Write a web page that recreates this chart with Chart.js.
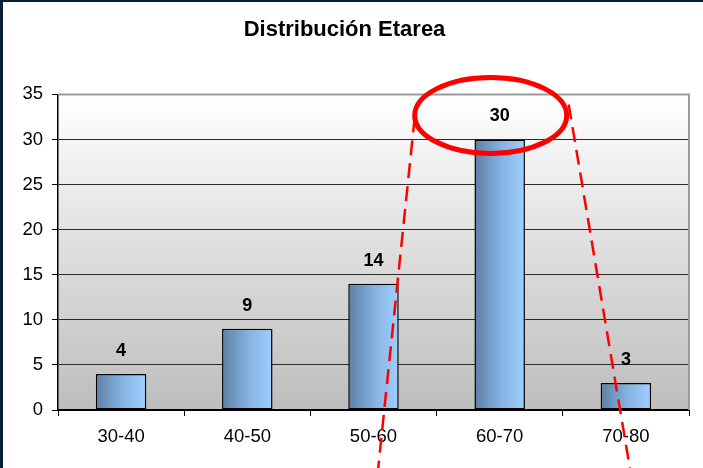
<!DOCTYPE html>
<html>
<head>
<meta charset="utf-8">
<script src="https://cdn.jsdelivr.net/npm/chart.js@4"></script>
<style>
  html, body { margin: 0; padding: 0; background: #fff; }
  #wrap { width: 703px; height: 468px; position: relative; }
</style>
</head>
<body>
<div id="wrap"><canvas id="c" width="703" height="468"></canvas></div>
<script>
// Age distribution of patients (grupos etarios)
const ageGroups = ['30-40', '40-50', '50-60', '60-70', '70-80'];
const patientCounts = [4, 9, 14, 30, 3];
const yTicks = [0, 5, 10, 15, 20, 25, 30, 35];
const chartTitle = 'Distribución Etarea';
const highlightIndex = 3; // group singled out with the red callout

const FONT = '"Liberation Sans", Arial, sans-serif';

// Grey-to-white backdrop of the plot area plus the dark frame edges
const backdrop = {
  id: 'backdrop',
  beforeDraw(chart) {
    const { ctx, chartArea: a } = chart;
    ctx.save();
    ctx.fillStyle = '#fff';
    ctx.fillRect(0, 0, chart.width, chart.height);
    const g = ctx.createLinearGradient(0, a.top, 0, a.bottom);
    g.addColorStop(0, '#ffffff');
    g.addColorStop(1, '#bdbdbd');
    ctx.fillStyle = g;
    ctx.fillRect(a.left, a.top, a.right - a.left, a.bottom - a.top);
    // frame edges
    ctx.fillStyle = '#0c1c3c';
    ctx.fillRect(0, 0, 3, chart.height);
    ctx.fillRect(0, 0, chart.width, 2);
    ctx.restore();
  },
  afterDraw(chart) {
    const { ctx, chartArea: a } = chart;
    ctx.save();
    ctx.strokeStyle = '#9a9a9a';
    ctx.lineWidth = 2;
    ctx.beginPath();
    ctx.moveTo(a.left, a.top);
    ctx.lineTo(a.right, a.top);
    ctx.lineTo(a.right, a.bottom);
    ctx.stroke();
    ctx.restore();
  }
};

// Horizontal steel-blue shading of each bar
const barShade = {
  id: 'barShade',
  beforeDatasetsDraw(chart) {
    const { ctx } = chart;
    chart.getDatasetMeta(0).data.forEach(bar => {
      const half = bar.width / 2;
      const g = ctx.createLinearGradient(bar.x - half, 0, bar.x + half, 0);
      g.addColorStop(0, '#5e7fa5');
      g.addColorStop(0.55, '#86b4e4');
      g.addColorStop(1, '#a0d0ff');
      bar.options.backgroundColor = g;
    });
  }
};

// Bold value above every bar
const valueLabels = {
  id: 'valueLabels',
  afterDatasetsDraw(chart) {
    const { ctx } = chart;
    const values = chart.data.datasets[0].data;
    ctx.save();
    ctx.font = 'bold 18px ' + FONT;
    ctx.fillStyle = '#000';
    ctx.textAlign = 'center';
    ctx.textBaseline = 'middle';
    chart.getDatasetMeta(0).data.forEach((bar, i) => {
      ctx.fillText(String(values[i]), bar.x, bar.y - 23);
    });
    ctx.restore();
  }
};

// Red callout: ellipse around the highlighted value and dashed guide lines
const callout = {
  id: 'callout',
  afterDraw(chart) {
    const { ctx } = chart;
    const bar = chart.getDatasetMeta(0).data[highlightIndex];
    const cx = bar.x - 9;
    const cy = bar.y - 24;
    const rx = 76, ry = 38;
    ctx.save();
    ctx.strokeStyle = '#ff0000';
    ctx.lineWidth = 2.5;
    ctx.setLineDash([15, 8]);
    ctx.beginPath();
    ctx.moveTo(cx - rx, cy + 2);
    ctx.lineTo(cx - rx - 37, chart.height + 5);
    ctx.moveTo(cx + rx + 2, cy - 11);
    ctx.lineTo(cx + rx + 64, chart.height + 5);
    ctx.stroke();
    ctx.setLineDash([]);
    ctx.lineWidth = 5;
    ctx.beginPath();
    ctx.ellipse(cx, cy, rx, ry, 0, 0, Math.PI * 2);
    ctx.stroke();
    ctx.restore();
  }
};

new Chart(document.getElementById('c'), {
  type: 'bar',
  data: {
    labels: ageGroups,
    datasets: [{
      data: patientCounts,
      // scriptable so every bar keeps its own options object
      backgroundColor: () => '#86b4e4',
      borderColor: '#000',
      borderWidth: 1.5,
      borderSkipped: false,
      barPercentage: 0.4,
      categoryPercentage: 1.0
    }]
  },
  options: {
    responsive: false,
    animation: false,
    devicePixelRatio: 1,
    layout: { padding: { left: 0, right: 14, top: 0, bottom: 0 } },
    plugins: {
      legend: { display: false },
      tooltip: { enabled: false },
      title: {
        display: true,
        text: chartTitle,
        color: '#000',
        font: { family: FONT, size: 22, weight: 'bold' },
        padding: { top: 17, bottom: 51 }
      }
    },
    scales: {
      x: {
        offset: true,
        border: { display: true, color: '#000', width: 2 },
        grid: {
          offset: true,
          drawOnChartArea: false,
          drawTicks: true,
          tickLength: 6,
          color: '#000'
        },
        ticks: {
          color: '#000',
          font: { family: FONT, size: 18.5 },
          padding: 10
        },
        afterFit(s) { s.height = 58; }
      },
      y: {
        min: 0,
        max: 35,
        afterBuildTicks(s) { s.ticks = yTicks.map(v => ({ value: v })); },
        border: { display: true, color: '#000', width: 1.5 },
        grid: {
          color: ctx => (ctx.tick && ctx.tick.value === 35) ? 'rgba(0,0,0,0)' : '#2a2a2a',
          lineWidth: 1,
          drawTicks: true,
          tickLength: 6,
          tickColor: '#000'
        },
        ticks: {
          color: '#000',
          font: { family: FONT, size: 18.5 },
          padding: 9
        },
        afterFit(s) { s.width = 58; }
      }
    }
  },
  plugins: [backdrop, barShade, valueLabels, callout]
});
</script>
</body>
</html>
